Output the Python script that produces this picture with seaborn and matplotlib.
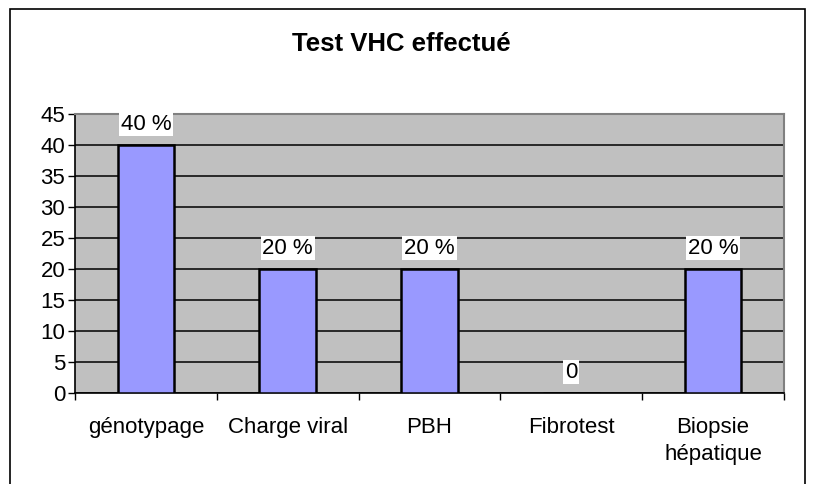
import matplotlib
matplotlib.use('Agg')
import matplotlib.pyplot as plt
import seaborn as sns
import pandas as pd
from matplotlib.patches import Rectangle

# chart data
categories = ['génotypage', 'Charge viral', 'PBH', 'Fibrotest', 'Biopsie\nhépatique']
values = [40, 20, 20, 0, 20]
labels = ['40 %', '20 %', '20 %', '0', '20 %']
yticks = [0, 5, 10, 15, 20, 25, 30, 35, 40, 45]

data = pd.DataFrame({'Test': categories, 'Valeur': values})

sns.set_style('white')
plt.rcParams['font.family'] = ['Liberation Sans', 'DejaVu Sans']
plt.rcParams['text.color'] = 'black'
plt.rcParams['xtick.color'] = 'black'
plt.rcParams['ytick.color'] = 'black'

fs = 16

fig = plt.figure(figsize=(8.13, 4.84), dpi=100)
ax = fig.add_axes([75 / 813, 1 - 393 / 484, (784 - 75) / 813, (393 - 114) / 484])
ax.set_facecolor('#C0C0C0')

sns.barplot(data=data, x='Test', y='Valeur', color='#9999FF', edgecolor='black',
            linewidth=1.8, width=0.4, saturation=1, ax=ax, zorder=3)

ax.set_ylim(0, 45)
ax.set_xlim(-0.5, len(categories) - 0.5)
ax.set_yticks(yticks)
ax.yaxis.grid(True, color='black', linewidth=1.1, zorder=0)
ax.set_axisbelow(True)

# x ticks at category boundaries, labels at centres
ax.set_xticks([i - 0.5 for i in range(len(categories) + 1)], minor=False)
ax.set_xticklabels([])
ax.set_xticks(range(len(categories)), minor=True)
ax.set_xticklabels(categories, minor=True, fontsize=fs, linespacing=1.4)
ax.tick_params(axis='x', which='minor', length=0, pad=17)
ax.tick_params(axis='x', which='major', direction='out', length=5, width=1, color='black', bottom=True)
ax.tick_params(axis='y', direction='out', length=5, width=1, color='black', left=True,
               labelsize=fs, pad=2)

ax.set_xlabel('')
ax.set_ylabel('')

for side in ['top', 'right']:
    ax.spines[side].set_color('#808080')
    ax.spines[side].set_linewidth(1.5)
for side in ['left', 'bottom']:
    ax.spines[side].set_color('black')
    ax.spines[side].set_linewidth(1.2)

# value labels with white box
for i, (v, lab) in enumerate(zip(values, labels)):
    ax.annotate(lab, xy=(i, v), xytext=(0, 15), textcoords='offset points',
                ha='center', va='center', fontsize=fs, zorder=5,
                bbox=dict(boxstyle='square,pad=0.08', fc='white', ec='none'))

fig.text(401 / 813, 1 - 44 / 484, 'Test VHC effectué', ha='center', va='center',
         fontsize=18.5, fontweight='bold')

# outer chart border
fig.patches.append(Rectangle((10 / 813, -0.1), (805 - 10) / 813, 1.1 - 9 / 484,
                             transform=fig.transFigure, fill=False,
                             edgecolor='black', linewidth=1.2))

fig.savefig('out.png', dpi=100)
